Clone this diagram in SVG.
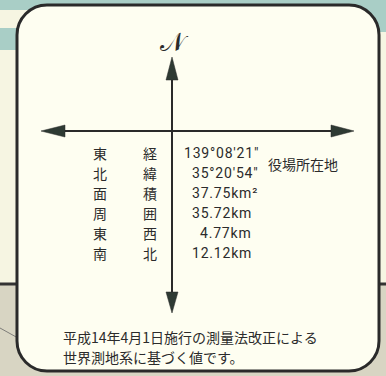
<svg xmlns="http://www.w3.org/2000/svg" width="386" height="376" viewBox="0 0 386 376">
<defs>
<style>
.jp{font-family:"Noto Sans CJK JP","Noto Sans",sans-serif;font-size:14px;fill:#2b2b2b}
.num{font-family:"Roboto","Liberation Sans",sans-serif;font-size:14px;fill:#2b2b2b;letter-spacing:0.8px}
.ln{stroke:#2a2a2a;stroke-width:2;fill:none}
.hd{fill:#2e3a33;stroke:#2a2a2a;stroke-width:0.5}
</style>
</defs>
<g id="background">
<rect x="0" y="0" width="386" height="376" fill="#f6f5e2"/>
<rect x="0" y="0" width="386" height="10" fill="#a9cec6"/>
<rect x="0" y="28" width="30" height="22" fill="#a9cec6"/>
<rect x="340" y="0" width="46" height="32" fill="#a9cec6"/>
<rect x="0" y="285" width="386" height="91" fill="#d8d5c3"/>
<line x1="0" y1="284" x2="386" y2="284" stroke="#333" stroke-width="3"/>
<line x1="0" y1="328" x2="18" y2="338" stroke="#666" stroke-width="0.8"/>
</g>
<g id="box">
<rect x="17" y="5" width="362" height="366" rx="30" ry="30" fill="#fefef1" stroke="#2a2a2a" stroke-width="3"/>
</g>
<g id="connectors">
<line class="ln" x1="172" y1="75" x2="172" y2="295"/>
<polygon class="hd" points="172,57 166,80 178,80"/>
<polygon class="hd" points="172,313 166,292 178,292"/>
<line class="ln" x1="60" y1="131" x2="336" y2="131"/>
<polygon class="hd" points="41,131 65,125 65,137"/>
<polygon class="hd" points="354,131 331,125 331,137"/>
</g>
<g id="north">
<text x="172" y="51" text-anchor="middle" style="font-family:'DejaVu Serif','Liberation Serif',serif;font-size:26px;fill:#2b2b2b">𝒩</text>
</g>
<g id="labels">
<text class="jp" x="93" y="159">東</text><text class="jp" x="143" y="159">経</text>
<text class="jp" x="93" y="179">北</text><text class="jp" x="143" y="179">緯</text>
<text class="jp" x="93" y="199">面</text><text class="jp" x="143" y="199">積</text>
<text class="jp" x="93" y="219">周</text><text class="jp" x="143" y="219">囲</text>
<text class="jp" x="93" y="239">東</text><text class="jp" x="143" y="239">西</text>
<text class="jp" x="93" y="259">南</text><text class="jp" x="143" y="259">北</text>
</g>
<g id="values">
<text class="num" x="184" y="158">139°08′21″</text>
<text class="num" x="192" y="178">35°20′54″</text>
<text class="num" x="192" y="198">37.75km²</text>
<text class="num" x="192" y="218">35.72km</text>
<text class="num" x="200" y="238">4.77km</text>
<text class="num" x="192" y="258">12.12km</text>
<text class="jp" x="268" y="170">役場所在地</text>
</g>
<g id="note">
<text class="jp" x="63" y="343">平成14年4月1日施行の測量法改正による</text>
<text class="jp" x="63" y="363">世界測地系に基づく値です。</text>
</g>
</svg>
